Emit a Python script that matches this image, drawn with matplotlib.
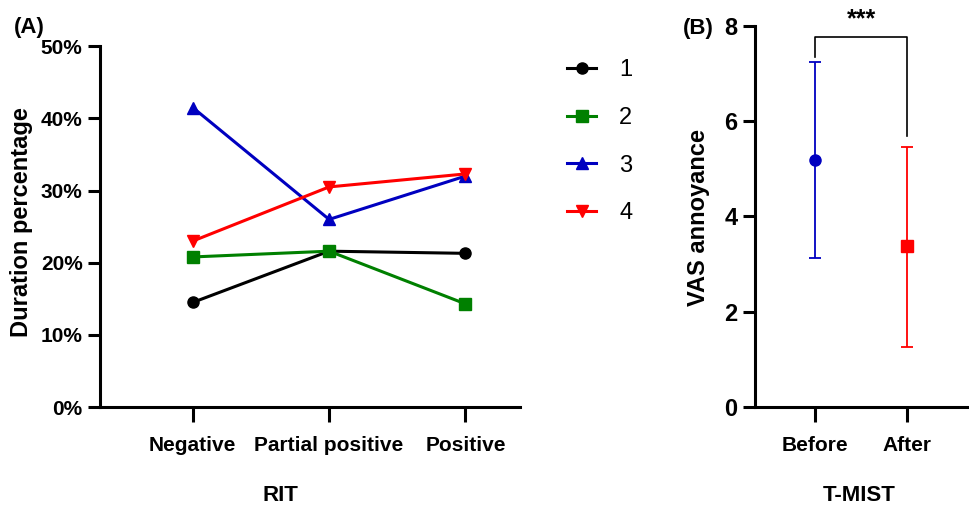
import matplotlib
matplotlib.use("Agg")
import matplotlib.pyplot as plt
from matplotlib.ticker import PercentFormatter

plt.rcParams['font.family'] = ['Liberation Sans', 'DejaVu Sans']

# panel A data
rit_cats = ["Negative", "Partial positive", "Positive"]
group_names = ["1", "2", "3", "4"]
dur_1 = [14.5, 21.6, 21.3]
dur_2 = [20.8, 21.6, 14.3]
dur_3 = [41.5, 26.0, 32.0]
dur_4 = [23.0, 30.5, 32.3]
dur_all = [dur_1, dur_2, dur_3, dur_4]
cols = ["black", "#008000", "#0000c0", "#ff0000"]
marks = ["o", "s", "^", "v"]

# panel B data
tmist_cats = ["Before", "After"]
vas_mean = [5.18, 3.37]
vas_low = [3.12, 1.26]
vas_high = [7.25, 5.47]
vas_cols = ["#0000c0", "#ff0000"]
vas_marks = ["o", "s"]
sig_text = "***"
sig_y = 7.77
sig_legs = [7.36, 5.70]

fig = plt.figure(figsize=(9.7, 5.07), dpi=100)
axA = fig.add_axes([0.1031, 0.197, 0.4330, 0.712])
axB = fig.add_axes([0.7784, 0.198, 0.2196, 0.750])

xs = list(range(len(rit_cats)))
for i in range(4):
    axA.plot(xs, dur_all[i], color=cols[i], marker=marks[i], lw=2.2,
             markersize=8, label=group_names[i], clip_on=False)
axA.set_xlim(-0.68, 2.40)
axA.set_ylim(0, 50)
axA.set_yticks([0, 10, 20, 30, 40, 50])
axA.yaxis.set_major_formatter(PercentFormatter(decimals=0))
axA.set_xticks(xs)
axA.set_xticklabels(rit_cats)
axA.set_xlabel("RIT", fontsize=16, fontweight="bold")
axA.xaxis.set_label_coords(0.43, -0.216)
axA.set_ylabel("Duration percentage", fontsize=17, fontweight="bold")
axA.yaxis.set_label_coords(-0.16, 0.512)
fig.legend(loc="upper left", bbox_to_anchor=(0.563, 0.925), frameon=False,
           fontsize=17, handlelength=1.2, handletextpad=1.0, labelspacing=1.09)

for i in range(2):
    axB.errorbar([i], [vas_mean[i]],
                 yerr=[[vas_mean[i] - vas_low[i]], [vas_high[i] - vas_mean[i]]],
                 color=vas_cols[i], marker=vas_marks[i], markersize=8,
                 elinewidth=1.3, capsize=4, capthick=1.3, clip_on=False)
axB.plot([0, 0, 1, 1], [sig_legs[0], sig_y, sig_y, sig_legs[1]],
         color="black", lw=1.2, clip_on=False)
axB.text(0.5, sig_y + 0.12, sig_text, ha="center", va="bottom",
         fontsize=18, fontweight="bold")
axB.set_xlim(-0.652, 1.663)
axB.set_ylim(0, 8)
axB.set_yticks([0, 2, 4, 6, 8])
axB.set_xticks([0, 1])
axB.set_xticklabels(tmist_cats)
axB.set_xlabel("T-MIST", fontsize=16, fontweight="bold")
axB.xaxis.set_label_coords(0.49, -0.206)
axB.set_ylabel("VAS annoyance", fontsize=17, fontweight="bold")
axB.yaxis.set_label_coords(-0.21, 0.498)

for ax in (axA, axB):
    ax.spines["top"].set_visible(False)
    ax.spines["right"].set_visible(False)
    ax.spines["left"].set_linewidth(2.2)
    ax.spines["bottom"].set_linewidth(2.2)
    ax.tick_params(axis="both", width=2.2, length=9)
    ax.tick_params(axis="x", length=11, pad=10)
    for lab in ax.get_xticklabels() + ax.get_yticklabels():
        lab.set_fontweight("bold")
        lab.set_fontsize(15)
for lab in axB.get_yticklabels():
    lab.set_fontsize(17)

fig.text(0.014, 0.935, "(A)", fontsize=16, fontweight="bold")
fig.text(0.704, 0.933, "(B)", fontsize=16, fontweight="bold")

fig.savefig("out.png", dpi=100)
